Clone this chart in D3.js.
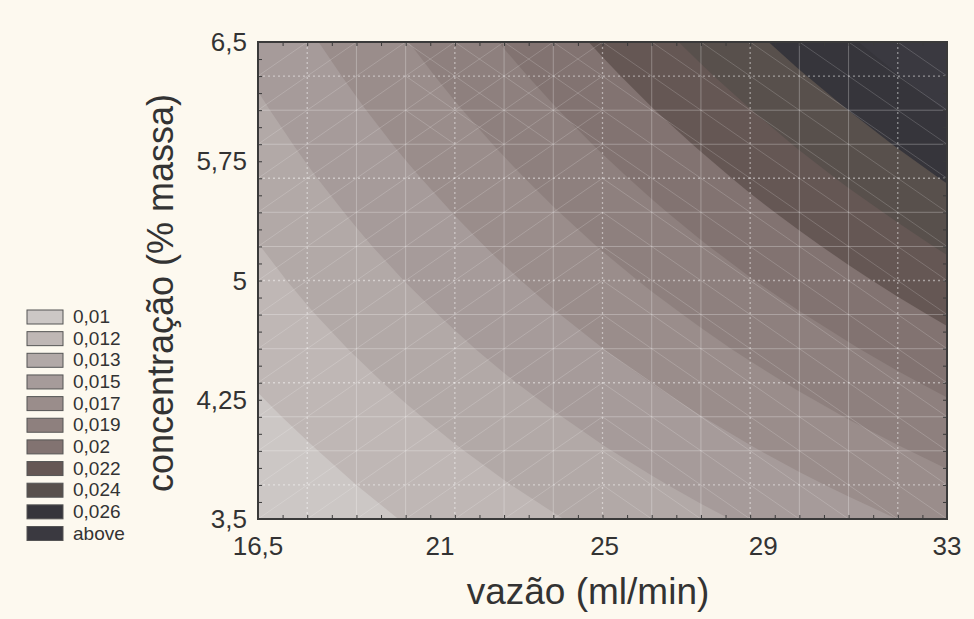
<!DOCTYPE html>
<html>
<head>
<meta charset="utf-8">
<script src="https://cdn.jsdelivr.net/npm/d3@7"></script>
<style>
  body { margin: 0; background: #fdf9ef; }
  svg { display: block; font-family: "Liberation Sans", Arial, sans-serif; }
</style>
</head>
<body>
<svg id="chart" width="974" height="619"></svg>
<script>
// grid of the fitted surface (vazão x concentração)
const vazao = [16.5, 17.679, 18.857, 20.036, 21.214, 22.393, 23.571, 24.75,
               25.929, 27.107, 28.286, 29.464, 30.643, 31.821, 33];
const concentracao = [3.5, 3.714, 3.929, 4.143, 4.357, 4.571, 4.786, 5,
                      5.214, 5.429, 5.643, 5.857, 6.071, 6.286, 6.5];

// one row per concentração value (3,5 first), one column per vazão value
const resposta = [
  [0.00830, 0.00880, 0.00934, 0.00988, 0.01040, 0.01092, 0.01144, 0.01196, 0.01248, 0.01300, 0.01351, 0.01403, 0.01454, 0.01506, 0.01557],
  [0.00870, 0.00924, 0.00980, 0.01036, 0.01092, 0.01147, 0.01202, 0.01257, 0.01312, 0.01367, 0.01422, 0.01477, 0.01531, 0.01586, 0.01641],
  [0.00910, 0.00967, 0.01026, 0.01085, 0.01144, 0.01202, 0.01261, 0.01319, 0.01377, 0.01435, 0.01493, 0.01551, 0.01609, 0.01666, 0.01724],
  [0.00951, 0.01011, 0.01073, 0.01135, 0.01196, 0.01258, 0.01319, 0.01380, 0.01442, 0.01503, 0.01564, 0.01625, 0.01686, 0.01747, 0.01808],
  [0.00992, 0.01055, 0.01120, 0.01185, 0.01249, 0.01314, 0.01378, 0.01443, 0.01507, 0.01571, 0.01635, 0.01699, 0.01763, 0.01827, 0.01891],
  [0.01033, 0.01100, 0.01167, 0.01235, 0.01302, 0.01370, 0.01437, 0.01504, 0.01571, 0.01639, 0.01706, 0.01773, 0.01840, 0.01908, 0.01975],
  [0.01073, 0.01143, 0.01214, 0.01284, 0.01354, 0.01425, 0.01495, 0.01566, 0.01636, 0.01706, 0.01777, 0.01847, 0.01918, 0.01988, 0.02058],
  [0.01112, 0.01186, 0.01259, 0.01333, 0.01406, 0.01480, 0.01553, 0.01627, 0.01701, 0.01774, 0.01848, 0.01921, 0.01995, 0.02068, 0.02142],
  [0.01151, 0.01228, 0.01305, 0.01382, 0.01458, 0.01535, 0.01612, 0.01689, 0.01765, 0.01842, 0.01919, 0.01995, 0.02072, 0.02149, 0.02226],
  [0.01191, 0.01271, 0.01350, 0.01430, 0.01510, 0.01590, 0.01670, 0.01750, 0.01830, 0.01910, 0.01990, 0.02070, 0.02149, 0.02229, 0.02309],
  [0.01230, 0.01313, 0.01396, 0.01479, 0.01562, 0.01645, 0.01728, 0.01811, 0.01894, 0.01977, 0.02061, 0.02144, 0.02227, 0.02310, 0.02393],
  [0.01269, 0.01355, 0.01442, 0.01528, 0.01614, 0.01700, 0.01786, 0.01873, 0.01959, 0.02045, 0.02131, 0.02218, 0.02304, 0.02390, 0.02476],
  [0.01308, 0.01398, 0.01487, 0.01577, 0.01666, 0.01755, 0.01845, 0.01934, 0.02024, 0.02113, 0.02202, 0.02292, 0.02381, 0.02471, 0.02560],
  [0.01348, 0.01440, 0.01533, 0.01625, 0.01718, 0.01811, 0.01903, 0.01996, 0.02088, 0.02181, 0.02273, 0.02366, 0.02458, 0.02551, 0.02643],
  [0.01387, 0.01483, 0.01578, 0.01674, 0.01770, 0.01866, 0.01961, 0.02057, 0.02153, 0.02248, 0.02344, 0.02440, 0.02536, 0.02631, 0.02727]
];

const niveis = [0.0098, 0.01155, 0.0133, 0.01505, 0.0168, 0.01855, 0.0203, 0.02205, 0.0238, 0.02555];
const legendaLabels = ["0,01", "0,012", "0,013", "0,015", "0,017", "0,019", "0,02", "0,022", "0,024", "0,026", "above"];
const cores = ["#ccc7c5", "#bfb7b5", "#b2a9a7", "#a69b9a", "#9a8d8b", "#8e807e",
               "#827371", "#655754", "#58504c", "#36353b", "#3a3940"];

const xTicks = [16.5, 20.86, 24.8, 28.6, 33];
const xTickLabels = ["16,5", "21", "25", "29", "33"];
const yTicks = [3.5, 4.25, 5, 5.75, 6.5];
const yTickLabels = ["3,5", "4,25", "5", "5,75", "6,5"];

const svg = d3.select("#chart");
const plot = {left: 258, right: 947, top: 42, bottom: 519};

const x = d3.scaleLinear().domain([16.5, 33]).range([plot.left, plot.right]);
const y = d3.scaleLinear().domain([3.5, 6.5]).range([plot.bottom, plot.top]);

const nx = vazao.length, ny = concentracao.length;
// contour grid coords -> pixels (grid values sit at i + 0.5)
const gx = d3.scaleLinear().domain([0.5, nx - 0.5]).range([x(vazao[0]), x(vazao[nx - 1])]);
const gy = d3.scaleLinear().domain([0.5, ny - 0.5]).range([y(concentracao[0]), y(concentracao[ny - 1])]);

svg.append("defs").append("clipPath").attr("id", "clip")
  .append("rect")
  .attr("x", plot.left).attr("y", plot.top)
  .attr("width", plot.right - plot.left).attr("height", plot.bottom - plot.top);

const g = svg.append("g").attr("clip-path", "url(#clip)");

g.append("rect")
  .attr("x", plot.left).attr("y", plot.top)
  .attr("width", plot.right - plot.left).attr("height", plot.bottom - plot.top)
  .attr("fill", cores[0]);

const contours = d3.contours().size([nx, ny]).thresholds(niveis)(resposta.flat());

function ringPath(ring) {
  return "M" + ring.map(p => gx(p[0]).toFixed(2) + "," + gy(p[1]).toFixed(2)).join("L") + "Z";
}

g.selectAll("path.band")
  .data(contours)
  .join("path")
  .attr("class", "band")
  .attr("fill", (d, i) => cores[i + 1])
  .attr("fill-rule", "evenodd")
  .attr("d", d => d.coordinates.map(poly => poly.map(ringPath).join("")).join(""));

// triangulation mesh
const diag = [];
for (let j = 0; j < ny - 1; j++) {
  for (let i = 0; i < nx - 1; i++) {
    const both = j >= 11 && i >= 3 && i < 7;
    if (i < 7 || both) diag.push([vazao[i], concentracao[j], vazao[i + 1], concentracao[j + 1]]);
    if (i >= 7 || both) diag.push([vazao[i], concentracao[j + 1], vazao[i + 1], concentracao[j]]);
  }
}

g.selectAll("line.diag")
  .data(diag)
  .join("line")
  .attr("class", "diag")
  .attr("x1", d => x(d[0])).attr("y1", d => y(d[1]))
  .attr("x2", d => x(d[2])).attr("y2", d => y(d[3]))
  .attr("stroke", "rgba(255,255,255,0.22)")
  .attr("stroke-width", 0.8);

const dotted = [1, 4, 7, 10, 13];

g.selectAll("line.vgrid")
  .data(vazao)
  .join("line")
  .attr("class", "vgrid")
  .attr("x1", d => x(d)).attr("x2", d => x(d))
  .attr("y1", plot.top).attr("y2", plot.bottom)
  .attr("stroke", (d, i) => dotted.includes(i) ? "rgba(255,255,255,0.45)" : "rgba(255,255,255,0.28)")
  .attr("stroke-width", (d, i) => dotted.includes(i) ? 1.3 : 1)
  .attr("stroke-dasharray", (d, i) => dotted.includes(i) ? "2,3" : null);

g.selectAll("line.hgrid")
  .data(concentracao)
  .join("line")
  .attr("class", "hgrid")
  .attr("y1", d => y(d)).attr("y2", d => y(d))
  .attr("x1", plot.left).attr("x2", plot.right)
  .attr("stroke", (d, i) => dotted.includes(ny - 1 - i) ? "rgba(255,255,255,0.45)" : "rgba(255,255,255,0.28)")
  .attr("stroke-width", (d, i) => dotted.includes(ny - 1 - i) ? 1.3 : 1)
  .attr("stroke-dasharray", (d, i) => dotted.includes(ny - 1 - i) ? "2,3" : null);

// axes: inward ticks on all four sides
const xMinor = d3.range(0, 29).map(k => 16.5 + k * 16.5 / 28);
const yMinor = d3.range(0, 29).map(k => 3.5 + k * 3 / 28);

svg.append("g").attr("transform", `translate(0,${plot.bottom})`)
  .call(d3.axisTop(x).tickValues(xMinor).tickSize(4).tickFormat(""));
svg.append("g").attr("transform", `translate(0,${plot.top})`)
  .call(d3.axisBottom(x).tickValues(xMinor).tickSize(4).tickFormat(""));
svg.append("g").attr("transform", `translate(${plot.left},0)`)
  .call(d3.axisRight(y).tickValues(yMinor).tickSize(4).tickFormat(""));
svg.append("g").attr("transform", `translate(${plot.right},0)`)
  .call(d3.axisLeft(y).tickValues(yMinor).tickSize(4).tickFormat(""));

svg.selectAll(".tick line").attr("stroke", "#3a3a3a").attr("stroke-width", 1);
svg.selectAll(".domain").remove();

svg.append("rect")
  .attr("x", plot.left).attr("y", plot.top)
  .attr("width", plot.right - plot.left).attr("height", plot.bottom - plot.top)
  .attr("fill", "none").attr("stroke", "#3a3a3a").attr("stroke-width", 2);

svg.selectAll("text.xlab")
  .data(xTicks)
  .join("text")
  .attr("class", "xlab")
  .attr("x", d => x(d)).attr("y", plot.bottom + 36)
  .attr("text-anchor", "middle")
  .attr("font-size", 26).attr("fill", "#333")
  .text((d, i) => xTickLabels[i]);

svg.selectAll("text.ylab")
  .data(yTicks)
  .join("text")
  .attr("class", "ylab")
  .attr("x", plot.left - 11).attr("y", d => y(d) + 9)
  .attr("text-anchor", "end")
  .attr("font-size", 26).attr("fill", "#333")
  .text((d, i) => yTickLabels[i]);

svg.append("text")
  .attr("x", 588).attr("y", 604)
  .attr("text-anchor", "middle")
  .attr("font-size", 37).attr("fill", "#333")
  .text("vazão (ml/min)");

svg.append("text")
  .attr("transform", "translate(173,293) rotate(-90)")
  .attr("text-anchor", "middle")
  .attr("font-size", 36).attr("fill", "#333")
  .text("concentração (% massa)");

// legend
const legend = svg.append("g").attr("transform", "translate(27,310)");
const item = legend.selectAll("g")
  .data(legendaLabels)
  .join("g")
  .attr("transform", (d, i) => `translate(0,${i * 21.65})`);

item.append("rect")
  .attr("width", 36).attr("height", 14)
  .attr("fill", (d, i) => cores[i])
  .attr("stroke", "#555").attr("stroke-width", 1);

item.append("text")
  .attr("x", 46).attr("y", 13)
  .attr("font-size", 19).attr("fill", "#333")
  .text(d => d);
</script>
</body>
</html>
